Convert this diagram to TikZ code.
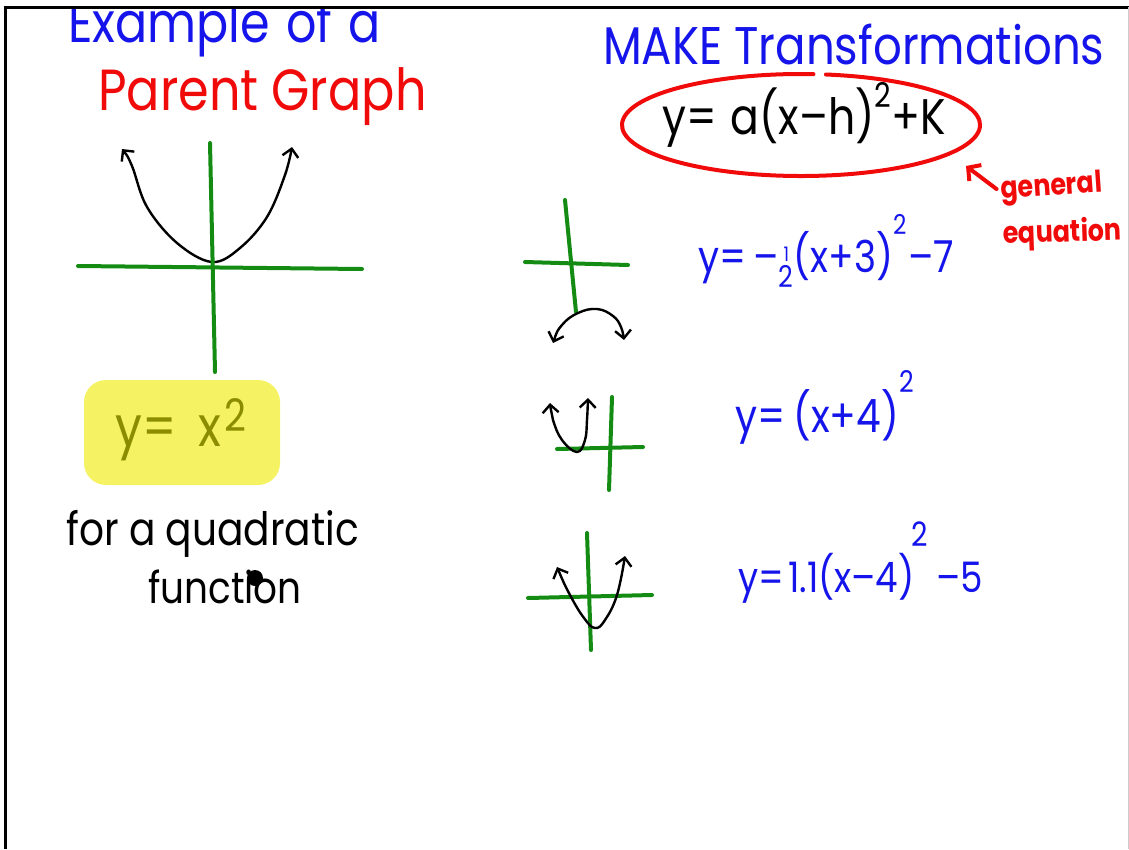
\documentclass[tikz,border=0pt]{standalone}
\usepackage{fontspec}
\usepackage{tikz}
\usetikzlibrary{arrows.meta,calc}
\newfontfamily\hand[FakeStretch=0.85]{Poppins}
\newcommand{\penfs}[1]{\fontsize{#1}{#1}\selectfont}
\newcommand{\psq}[2]{\smash{\raisebox{#1}{\scalebox{#2}{2}}}}
\definecolor{penblue}{RGB}{20,20,235}
\definecolor{penred}{RGB}{240,10,10}
\definecolor{pengreen}{RGB}{20,140,20}
\definecolor{penolive}{RGB}{140,140,0}
\definecolor{hilite}{RGB}{245,243,100}
\tikzset{
  axis/.style={draw=pengreen, line width=4pt, line cap=round},
  curve/.style={draw=black, line width=2.4pt, line cap=round, line join=round, {Straight Barb[length=8pt,width=16pt]}-{Straight Barb[length=8pt,width=16pt]}},
  hw/.style={inner sep=0pt, anchor=base west, font=\hand},
  redarrow/.style={draw=penred, line width=4pt, line cap=round, -{Straight Barb[length=9pt,width=20pt]}},
  frame/.style={draw=black, line width=3pt}
}

\begin{document}
\begin{tikzpicture}[x=1pt, y=-1pt]
  \useasboundingbox (0,0) rectangle (1129,849);
  \begin{scope}
    \clip (6.5,8.5) rectangle (1127.5,849);
    \node[hw, text=penblue, font={\hand\penfs{56}}] (title) at (68,42) {Example\hspace{16pt}of\hspace{16pt}a};
    \node[hw, text=penred, font={\hand\penfs{58}}] (parent) at (98,110) {Parent Graph};

    \draw[curve] plot[smooth, tension=0.6] coordinates {(122,149) (132,166) (147,207) (177,243) (212,262) (240,248) (267,217) (285,175) (292,147)};
    \draw[axis] (78,266) -- (362,269);
    \draw[axis] (210,143) -- (215,372);

    \fill[hilite, rounded corners=22pt] (84,380) rectangle (280,485);
    \node[hw, text=penolive, font={\hand\penfs{56}}] (parenteq) at (115,446) {y=\hspace{22pt}x\hspace{3pt}\psq{15pt}{0.8}};
    \node[hw, font={\hand\penfs{46}}] (forq) at (66,545) {for a quadratic};
    \node[hw, font={\hand\penfs{44}}] (func) at (148,603) {function};
    \fill (255,578) circle[radius=8];

    \node[hw, text=penblue, font={\hand\penfs{53}}] (make) at (603,64) {MAKE Transformations};
    \node[hw, font={\hand\penfs{50}}] (geneq) at (662,134) {y=\hspace{14pt}a(x–h)\psq{27pt}{0.68}+K};
    \coordinate (ring) at (801,125);
    \draw[penred, line width=4pt, line cap=round] ($(ring)+(278:179 and 51)$) arc[start angle=278, end angle=634, x radius=179, y radius=51];
    \node[hw, text=penred, font={\hand\bfseries\penfs{30}}, rotate=4] (gen) at (1001,199) {general};
    \node[hw, text=penred, font={\hand\bfseries\penfs{30}}, rotate=2] (equ) at (1003,244) {equation};
    \coordinate (gentip) at (966,166);
    \draw[redarrow, shorten <=5pt] (gen.west) -- (gentip);

    \draw[axis] (525,262) -- (628,265);
    \draw[axis] (565,200) -- (576,312);
    \draw[curve] plot[smooth, tension=0.7] coordinates {(553,343) (562,325) (578,313) (597,309) (613,316) (621,327) (624,340)};
    \node[hw, text=penblue, font={\hand\penfs{44}}] (eqa) at (698,272) {y=\,–\raisebox{-15pt}{\shortstack{\penfs{20}1\\\penfs{30}2}}(x+3)\psq{38pt}{0.62}\hspace{2pt}–7};

    \draw[axis] (557,449) -- (643,447);
    \draw[axis] (612,397) -- (609,490);
    \draw[curve] plot[smooth, tension=0.7] coordinates {(550,403) (553,420) (562,440) (577,452) (585,440) (587,420) (588,398)};
    \node[hw, text=penblue, font={\hand\penfs{46}}] (eqb) at (735,432) {y=\hspace{8pt}(x+4)\psq{40pt}{0.65}};

    \draw[axis] (528,598) -- (652,595);
    \draw[axis] (587,533) -- (591,650);
    \draw[curve] plot[smooth, tension=0.7] coordinates {(557,567) (570,595) (584,618) (595,628) (605,620) (617,595) (625,556)};
    \node[hw, text=penblue, font={\hand\penfs{42}}] (eqc) at (738,592) {y=\hspace{4pt}1.1(x–4)\hspace{-3pt}\psq{46pt}{0.8}\hspace{8pt}–5};
  \end{scope}
  \draw[frame] (5,849) -- (5,7) -- (1129,7);
  \draw[black!20, line width=1pt] (1128.5,7) -- (1128.5,849);
\end{tikzpicture}
\end{document}
